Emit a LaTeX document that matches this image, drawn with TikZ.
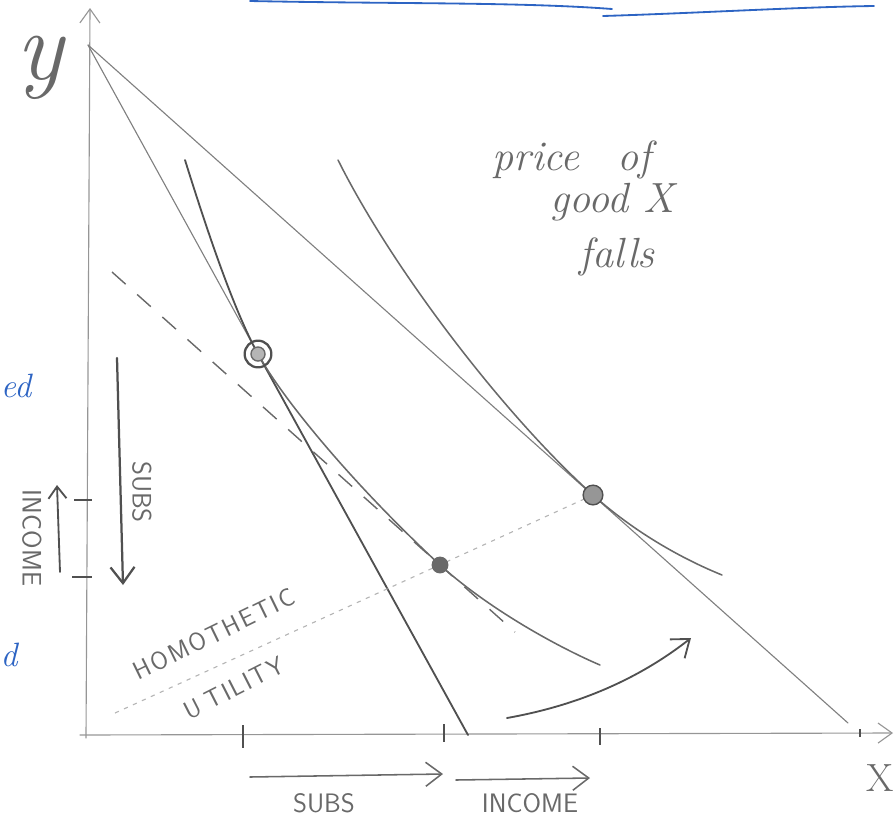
\documentclass[tikz,border=0pt]{standalone}
\usetikzlibrary{arrows.meta}
\definecolor{pencil}{RGB}{105,105,105}
\definecolor{pencildark}{RGB}{80,80,80}
\definecolor{pencillight}{RGB}{150,150,150}
\definecolor{inkblue}{RGB}{45,100,195}
\newcommand{\lsp}{\hspace{0.08em}}
\tikzset{
  axisline/.style={draw=pencillight, line width=0.8pt, line cap=round},
  budget/.style={draw=pencil!85, line width=0.8pt, line cap=round},
  curve/.style={draw=pencil, line width=1.1pt, line cap=round},
  darkline/.style={draw=pencildark, line width=1.3pt, line cap=round},
  dashline/.style={draw=pencil, line width=1pt, dash pattern=on 13pt off 11pt},
  dotline/.style={draw=pencillight!70, line width=0.8pt, dash pattern=on 3pt off 4pt},
  tickmark/.style={draw=pencildark, line width=1.3pt},
  barb/.style={-{Straight Barb[length=4mm,width=6mm]}},
  pointmark/.style={circle, draw=pencil, fill=pencillight!70, line width=1pt, inner sep=0pt},
  handtext/.style={text=pencil, font=\itshape\fontsize{30}{30}\selectfont},
  capstext/.style={text=pencil, inner sep=1pt, font=\sffamily\fontsize{19}{19}\selectfont},
  slanttext/.style={text=pencil, inner sep=1pt, font=\sffamily\fontsize{18}{18}\selectfont},
  bluetext/.style={text=inkblue, inner sep=0pt, font=\itshape\fontsize{24}{24}\selectfont},
}
\begin{document}
\begin{tikzpicture}[x=0.025cm,y=-0.025cm]
\useasboundingbox (0,0) rectangle (895,824);

% key coordinates
\coordinate (O) at (86,738);
\coordinate (Ytop) at (90,8);
\coordinate (Xstart) at (80,735);
\coordinate (Xend) at (893,733);
\coordinate (Yint) at (88,45);
\coordinate (Xint1) at (468,735);
\coordinate (Xint2) at (848,723);
\coordinate (P1) at (258,354);
\coordinate (P2) at (440,565);
\coordinate (P3) at (593,495);

% blue ink strokes at the top
\coordinate (B1) at (250,1);
\coordinate (B2) at (612,9);
\coordinate (B3) at (603,16);
\coordinate (B4) at (874,6);
\draw[inkblue, line width=1.3pt, line cap=round] (B1) .. controls (400,4) and (520,2) .. (B2);
\draw[inkblue, line width=1.3pt, line cap=round] (B3) .. controls (700,13) and (800,7) .. (B4);

% axes
\draw[axisline, -{Straight Barb[length=3.5mm,width=5mm]}] (O) -- (Ytop);
\draw[axisline, -{Straight Barb[length=3.5mm,width=5mm]}] (Xstart) -- (Xend);

% budget lines
\draw[budget] (Yint) -- (Xint2);
\draw[budget] (Yint) -- (P1);
\draw[darkline] (P1) -- (Xint1);

% compensated (dashed) budget line
\coordinate (D1) at (112,272);
\coordinate (D2) at (515,632);
\draw[dashline] (D1) -- (D2);

% homothetic ray
\coordinate (H0) at (115,713);
\draw[dotline] (H0) -- (P3);

% indifference curve 1
\coordinate (C1s) at (185,160);
\coordinate (C1e) at (600,665);
\draw[darkline] (C1s) .. controls (205,224) and (233,309) .. (P1);
\draw[curve] (P1) .. controls (285,403) and (358,489) .. (P2)
  .. controls (490,610) and (560,648) .. (C1e);

% indifference curve 2
\coordinate (C2s) at (338,160);
\coordinate (C2e) at (722,575);
\draw[curve] (C2s) .. controls (394,272) and (507,418) .. (P3)
  .. controls (640,537) and (690,562) .. (C2e);

% optimum points
\node[pointmark, minimum size=19pt, fill=none, line width=1.6pt, draw=pencildark] (M1) at (P1) {};
\node[pointmark, minimum size=10pt] (M1b) at (P1) {};
\node[pointmark, minimum size=11pt, fill=pencil] (M2) at (P2) {};
\node[pointmark, minimum size=14pt, fill=pencillight, draw=pencildark] (M3) at (P3) {};

% ticks on x axis
\coordinate (T1a) at (243,725); \coordinate (T1b) at (243,748);
\coordinate (T2a) at (444,724); \coordinate (T2b) at (444,742);
\coordinate (T3a) at (600,728); \coordinate (T3b) at (600,745);
\coordinate (T4a) at (860,729); \coordinate (T4b) at (860,737);
\draw[tickmark] (T1a) -- (T1b);
\draw[tickmark] (T2a) -- (T2b);
\draw[tickmark] (T3a) -- (T3b);
\draw[tickmark, line width=0.8pt] (T4a) -- (T4b);

% ticks on y axis
\coordinate (U1a) at (74,500); \coordinate (U1b) at (92,500);
\coordinate (U2a) at (72,577); \coordinate (U2b) at (92,577);
\draw[tickmark] (U1a) -- (U1b);
\draw[tickmark] (U2a) -- (U2b);

% vertical arrows on the left
\coordinate (S1) at (117,358);
\coordinate (S2) at (123,585);
\draw[darkline, line width=1.6pt, barb] (S1) -- (S2);
\coordinate (I1) at (60,572);
\coordinate (I2) at (57,485);
\draw[darkline, -{Straight Barb[length=3mm,width=4.5mm]}] (I1) -- (I2);
\node[capstext, rotate=-90] (subsV) at (142,492) {SUBS};
\node[capstext, rotate=-90] (incV) at (32,538) {INCOME};

% horizontal arrows at the bottom
\coordinate (SB1) at (250,777);
\coordinate (SB2) at (443,774);
\coordinate (IB1) at (456,780);
\coordinate (IB2) at (590,778);
\draw[curve, barb] (SB1) -- (SB2);
\draw[curve, barb] (IB1) -- (IB2);
\node[capstext] (subsH) at (324,803) {SUBS};
\node[capstext] (incH) at (530,803) {INCOME};

% curved arrow
\coordinate (CA1) at (507,718);
\coordinate (CA2) at (691,638);
\draw[darkline, barb] (CA1) .. controls (580,705) and (640,678) .. (CA2);

% homothetic utility label
\node[slanttext, rotate=26] (homo) at (214,634)
  {H\lsp O\lsp M\lsp O\lsp T\lsp H\lsp E\lsp T\lsp I\lsp C};
\node[slanttext, rotate=27] (util) at (234,688)
  {U\hspace{0.3em}T\lsp I\lsp L\lsp I\lsp T\lsp Y};

% price text
\node[handtext] (price) at (572,160) {price\hspace{0.9em}of};
\node[handtext] (good) at (612,202) {good X};
\node[handtext] (falls) at (617,257) {falls};

% axis labels
\node[text=pencil, inner sep=0pt, font=\itshape\fontsize{70}{70}\selectfont] (ylab) at (40,68) {y};
\node[text=pencil, font=\fontsize{28}{28}\selectfont] (xlab) at (880,778) {X};

% blue fragments at the left edge
\node[bluetext] (blueA) at (16,386) {ed};
\node[bluetext] (blueB) at (9,655) {d};
\end{tikzpicture}
\end{document}
